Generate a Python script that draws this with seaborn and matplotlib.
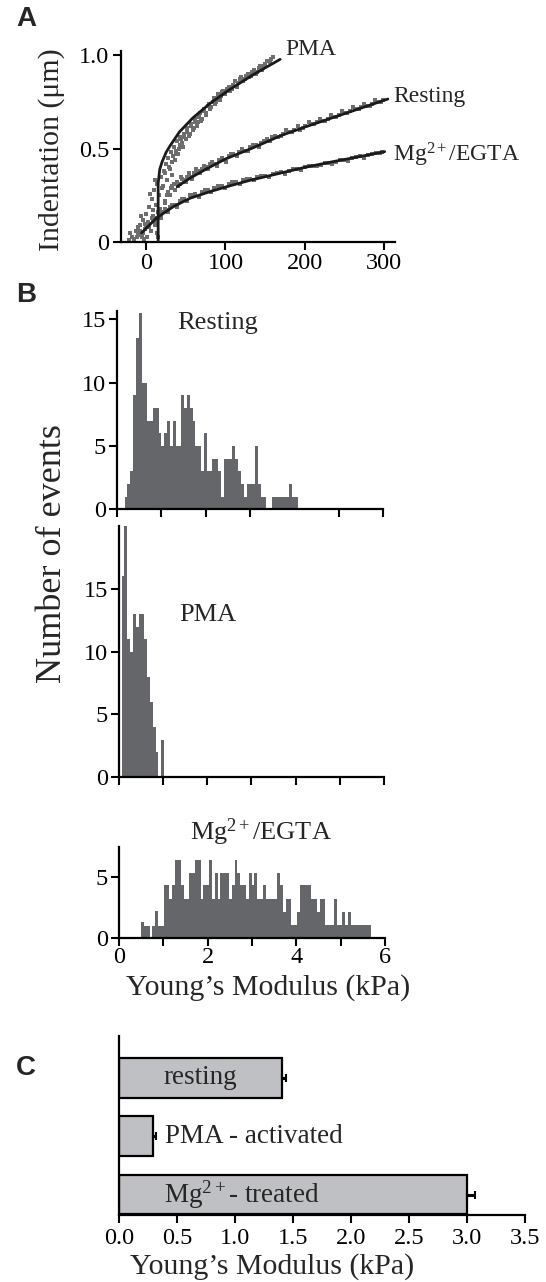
import numpy as np
import pandas as pd
import matplotlib
matplotlib.use("Agg")
import matplotlib.pyplot as plt
import seaborn as sns

# ---------------- data ----------------
# Panel A: indentation (um) vs force, raw points (two sweeps each) and fitted curves
pma_dot_x = [-22, -18, -15, -13, -10, -8, -6, -4, -2, 0, 1, 3, 4, 6, 7, 9, 10, 11, 12, 14,
             15, 16, 18, 19, 20, 22, 23, 25, 26, 28, 30, 31, 33, 35, 37, 39, 41, 43, 45, 47,
             50, 52, 55, 57, 60, 62, 65, 68, 70, 73, 76, 79, 82, 85, 88, 91, 94, 97, 100, 104,
             108, 112, 116, 120, 124, 128, 132, 136, 140, 144, 148, 152, 156, 160]
pma_dot_y = [0.01, 0.03, 0.02, 0.06, 0.04, 0.09, 0.03, 0.12, 0.07, 0.15, 0.03, 0.10, 0.19, 0.06, 0.23, 0.14, 0.28, 0.09, 0.20, 0.31,
             0.03, 0.25, 0.35, 0.13, 0.29, 0.38, 0.21, 0.42, 0.33, 0.45, 0.39, 0.48, 0.43, 0.51, 0.47, 0.54, 0.50, 0.56, 0.53, 0.58,
             0.55, 0.61, 0.58, 0.63, 0.61, 0.66, 0.64, 0.69, 0.66, 0.71, 0.69, 0.74, 0.72, 0.77, 0.75, 0.79, 0.78, 0.81, 0.80, 0.83,
             0.82, 0.86, 0.85, 0.88, 0.87, 0.90, 0.89, 0.92, 0.91, 0.94, 0.94, 0.97, 0.96, 0.99]
pma_dot2_x = [-20, -16, -11, -7, -3, 2, 5, 8, 11, 13, 17, 21, 24, 27, 29, 32, 34, 36, 38, 40,
              42, 44, 46, 48, 51, 54, 56, 59, 61, 64, 67, 69, 72, 75, 78, 81, 84, 87, 90, 93,
              96, 99, 102, 106, 110, 114, 118, 122, 126, 130, 134, 138, 142, 146, 150, 154, 158]
pma_dot2_y = [0.05, 0.01, 0.08, 0.14, 0.02, 0.11, 0.26, 0.17, 0.33, 0.05, 0.18, 0.30, 0.37, 0.27, 0.40, 0.36, 0.46, 0.44, 0.49, 0.47,
              0.52, 0.55, 0.51, 0.56, 0.59, 0.57, 0.62, 0.60, 0.64, 0.62, 0.67, 0.65, 0.70, 0.68, 0.73, 0.71, 0.75, 0.74, 0.77, 0.76,
              0.80, 0.79, 0.82, 0.81, 0.84, 0.83, 0.87, 0.86, 0.89, 0.88, 0.91, 0.90, 0.93, 0.92, 0.95, 0.97, 0.98]
rest_dot_x = [24, 27, 30, 33, 36, 39, 42, 45, 48, 52, 56, 60, 65, 70, 75, 80, 86, 92, 98, 104,
              110, 117, 124, 131, 138, 145, 152, 159, 166, 173, 180, 187, 194, 201, 208, 215, 222, 229, 236, 243,
              250, 257, 264, 271, 278, 285, 292, 299]
rest_dot_y = [0.22, 0.27, 0.25, 0.30, 0.28, 0.32, 0.31, 0.34, 0.33, 0.35, 0.35, 0.37, 0.38, 0.39, 0.40, 0.42, 0.42, 0.44, 0.44, 0.46,
              0.47, 0.48, 0.49, 0.51, 0.52, 0.53, 0.55, 0.56, 0.56, 0.58, 0.59, 0.60, 0.60, 0.62, 0.63, 0.64, 0.65, 0.66, 0.67, 0.68,
              0.69, 0.70, 0.71, 0.72, 0.73, 0.74, 0.75, 0.76]
rest_dot2_x = [26, 31, 35, 40, 44, 50, 54, 58, 63, 68, 73, 78, 83, 89, 95, 101, 107, 114, 121, 128,
               135, 142, 149, 156, 163, 170, 177, 184, 191, 198, 205, 212, 219, 226, 233, 240, 247, 254, 261, 268,
               275, 282, 289, 296]
rest_dot2_y = [0.25, 0.29, 0.31, 0.30, 0.35, 0.32, 0.37, 0.34, 0.39, 0.37, 0.41, 0.39, 0.43, 0.41, 0.45, 0.43, 0.47, 0.46, 0.50, 0.49,
               0.52, 0.51, 0.54, 0.54, 0.57, 0.57, 0.60, 0.59, 0.62, 0.61, 0.64, 0.63, 0.66, 0.65, 0.68, 0.67, 0.70, 0.69, 0.72, 0.71,
               0.74, 0.73, 0.76, 0.75]
mg_dot_x = [-12, -8, -4, 0, 4, 8, 12, 16, 20, 25, 30, 36, 42, 48, 55, 62, 70, 78, 86, 95,
            104, 113, 122, 131, 140, 150, 160, 170, 180, 190, 200, 210, 220, 230, 240, 250, 260, 270, 280, 290, 298]
mg_dot_y = [0.03, 0.06, 0.05, 0.09, 0.10, 0.12, 0.13, 0.15, 0.16, 0.17, 0.19, 0.20, 0.22, 0.23, 0.25, 0.26, 0.27, 0.28, 0.29, 0.30,
            0.31, 0.32, 0.33, 0.34, 0.35, 0.355, 0.365, 0.375, 0.38, 0.39, 0.40, 0.41, 0.415, 0.425, 0.43, 0.44, 0.45, 0.46, 0.465, 0.475, 0.48]
mg_dot2_x = [-10, -6, -1, 3, 7, 11, 15, 19, 23, 28, 33, 39, 45, 52, 59, 66, 74, 82, 90, 99,
             108, 118, 127, 136, 145, 155, 165, 175, 185, 195, 205, 215, 225, 235, 245, 255, 265, 275, 285, 295]
mg_dot2_y = [0.06, 0.04, 0.10, 0.08, 0.13, 0.11, 0.16, 0.14, 0.18, 0.16, 0.20, 0.19, 0.23, 0.22, 0.25, 0.24, 0.28, 0.27, 0.30, 0.29,
             0.32, 0.31, 0.34, 0.33, 0.355, 0.35, 0.37, 0.365, 0.39, 0.385, 0.41, 0.405, 0.425, 0.42, 0.44, 0.435, 0.455, 0.45, 0.47, 0.475]

pma_fit_x = [15, 15, 17, 20, 25, 30, 42, 59, 80, 105, 135, 169]
pma_fit_y = [0.0, 0.315, 0.39, 0.43, 0.48, 0.515, 0.59, 0.665, 0.74, 0.815, 0.895, 0.977]
rest_fit_x = [39, 55, 76, 100, 135, 170, 200, 235, 270, 305]
rest_fit_y = [0.297, 0.342, 0.392, 0.445, 0.505, 0.57, 0.615, 0.665, 0.715, 0.765]
mg_fit_x = [-6, 13, 34, 55, 80, 100, 130, 165, 200, 235, 270, 301]
mg_fit_y = [0.05, 0.13, 0.19, 0.235, 0.27, 0.295, 0.33, 0.365, 0.40, 0.43, 0.458, 0.484]

# Panel B: histograms of Young's modulus (kPa)
bin_width = 0.064
resting_start = 0.17
resting_counts = [1, 2, 3, 9, 13.5, 15.5, 10, 10, 7, 7,
                  8, 8, 6, 5, 6, 7, 5, 7, 5, 5,
                  9, 8, 9, 8, 7, 5, 5, 3, 6, 3,
                  3, 4, 4, 3, 1, 4, 4, 4, 5, 4,
                  3, 2, 1, 2, 2, 2, 5, 2, 1, 1,
                  0, 0, 1, 1, 1, 1, 1, 1, 2, 1,
                  1]
pma_start = 0.06
pma_counts = [16, 20, 11, 10, 13, 12, 13, 13, 11, 8, 6, 4, 2, 0, 3]
mg_start = 0.24
mg_counts = [0.1, 0.1, 0.1, 0.1, 1.3, 1, 1, 0.1, 1, 2.2,
             1, 1, 4.3, 4.3, 3.2, 4.3, 6.4, 6.4, 4.3, 3.2,
             3.2, 5.3, 5.3, 6.4, 6.4, 3.2, 4.3, 4.3, 6.4, 3.2,
             5.3, 3.2, 5.3, 5.3, 5.3, 3.2, 4.3, 6.4, 5.3, 4.3,
             4.3, 3.2, 5.3, 4.3, 5.3, 3.2, 3.2, 4.3, 3.2, 3.2,
             3.2, 3.2, 5.3, 4.3, 2.1, 3.2, 3.2, 1.1, 1.1, 2.1,
             4.3, 4.3, 4.3, 4.3, 3.2, 3.2, 2.1, 3.2, 3.2, 1.1,
             1.1, 1.1, 3.2, 1.1, 1.1, 2.1, 1.1, 2.1, 1.1, 1.1,
             1.1, 1.1, 1.1, 1.1, 1.1]

# Panel C: mean Young's modulus
conditions = ["resting", "PMA - activated", "Mg$^{\\mathrm{2+}}$- treated"]
mean_modulus = [1.40, 0.29, 3.00]
sem_modulus = [0.035, 0.025, 0.07]

# ---------------- style ----------------
sns.set_style("ticks")
plt.rcParams["font.family"] = ["Liberation Serif", "DejaVu Serif"]
plt.rcParams["mathtext.fontset"] = "custom"
plt.rcParams["mathtext.rm"] = "Liberation Serif"
plt.rcParams["mathtext.it"] = "Liberation Serif:italic"
plt.rcParams["axes.edgecolor"] = "black"
plt.rcParams["axes.linewidth"] = 1.6
plt.rcParams["xtick.color"] = "black"
plt.rcParams["ytick.color"] = "black"

TICK_FS = 17.5
LABEL_FS = 21.5
DOT_C = "#6d6d6d"
HIST_C = "#65666a"
BAR_C = "#bfc0c4"

W, H = 546, 1282
fig = plt.figure(figsize=(W / 100, H / 100), dpi=100)


def axes_px(left, top, right, bottom):
    return fig.add_axes([left / W, 1 - bottom / H, (right - left) / W, (bottom - top) / H])


def style_ax(ax, pad=2):
    sns.despine(ax=ax)
    ax.tick_params(direction="out", length=6, width=1.5, labelsize=TICK_FS, pad=pad)
    ax.set_xlabel("")
    ax.set_ylabel("")


# ---------------- panel A ----------------
axA = axes_px(120.7, 50.7, 395, 242.3)
for xs, ys in [(pma_dot_x, pma_dot_y), (pma_dot2_x, pma_dot2_y),
               (rest_dot_x, rest_dot_y), (rest_dot2_x, rest_dot2_y),
               (mg_dot_x, mg_dot_y), (mg_dot2_x, mg_dot2_y)]:
    sns.scatterplot(x=xs, y=ys, ax=axA, color=DOT_C, marker="s", s=10, linewidth=0, zorder=2)
for xs, ys in [(pma_fit_x, pma_fit_y), (rest_fit_x, rest_fit_y), (mg_fit_x, mg_fit_y)]:
    sns.lineplot(x=xs, y=ys, ax=axA, color="#1a1a1a", linewidth=2.0, sort=False, estimator=None, zorder=3)
axA.set_xlim(-32.3, 314)
axA.set_ylim(0, 1.023)
axA.set_xticks([0, 100, 200, 300])
axA.set_yticks([0, 0.5, 1.0])
axA.set_yticklabels(["0", "0.5", "1.0"])
style_ax(axA)
axA.text(176, 1.027, "PMA", fontsize=17, ha="left", va="center", clip_on=False)
axA.text(312, 0.777, "Resting", fontsize=17, ha="left", va="center", clip_on=False)
axA.text(311, 0.466, "Mg$^{\\mathrm{2+}}$/EGTA", fontsize=17, ha="left", va="center", clip_on=False)
fig.text(52 / W, 1 - 150 / H, "Indentation (\u03bcm)", rotation=90, ha="center", va="center", fontsize=LABEL_FS)

# ---------------- panel B ----------------
def hist_panel(ax, start, counts, ymax, yticks, xticks):
    n = len(counts)
    edges = [float(start + bin_width * k) for k in range(n + 1)]
    centers = [(edges[k] + edges[k + 1]) / 2 for k in range(n)]
    df = pd.DataFrame({"modulus": centers, "events": [float(c) for c in counts]})
    sns.histplot(data=df, x="modulus", weights="events", bins=edges, ax=ax, color=HIST_C,
                 alpha=1, linewidth=0, element="bars", fill=True)
    ax.set_xlim(0, 6)
    ax.set_ylim(0, ymax)
    ax.set_yticks(yticks)
    ax.set_xticks(xticks)
    style_ax(ax)


axR = axes_px(117, 310.7, 383, 509.3)
hist_panel(axR, resting_start, resting_counts, 15.68, [0, 5, 10, 15], [0, 1, 2, 3, 5, 6])
axR.set_xticklabels([])
axR.text(1.35, 14.7, "Resting", fontsize=19, ha="left", va="center")

axP = axes_px(119, 526, 384, 777.3)
hist_panel(axP, pma_start, pma_counts, 20.0, [0, 5, 10, 15], [0, 1, 2, 3, 4, 5, 6])
axP.set_xticklabels([])
axP.text(1.36, 12.9, "PMA", fontsize=19, ha="left", va="center")

axM = axes_px(119, 847.3, 385, 938.3)
hist_panel(axM, mg_start, mg_counts, 7.4, [0, 5], [0, 1, 2, 3, 4, 5, 6])
axM.set_xticklabels(["0", "", "2", "", "4", "", "6"])
axM.tick_params(axis="x", pad=0)
axM.text(3.2, 8.6, "Mg$^{\\mathrm{2+}}$/EGTA", fontsize=19, ha="center", va="center", clip_on=False)

fig.text(53 / W, 1 - 554 / H, "Number of events", rotation=90, ha="center", va="center", fontsize=26)
fig.text(268 / W, 1 - 995 / H, "Young\u2019s Modulus (kPa)", ha="center", va="baseline", fontsize=LABEL_FS)

# ---------------- panel C ----------------
axC = axes_px(119.3, 1036, 525, 1215)
dfC = pd.DataFrame({"condition": conditions, "modulus": mean_modulus})
sns.barplot(data=dfC, x="modulus", y="condition", orient="h", color=BAR_C, saturation=1,
            edgecolor="black", linewidth=1.6, width=0.68, errorbar=None, ax=axC)
axC.errorbar(mean_modulus, np.arange(len(conditions)),
             xerr=[np.zeros(len(conditions)), sem_modulus], fmt="none",
             ecolor="black", elinewidth=2.2, capsize=3, capthick=1.5, zorder=4)
axC.set_xlim(0, 3.5)
axC.set_ylim(2.35, -0.717)
axC.set_xticks([0, 0.5, 1.0, 1.5, 2.0, 2.5, 3.0, 3.5])
axC.set_xticklabels(["0.0", "0.5", "1.0", "1.5", "2.0", "2.5", "3.0", "3.5"])
axC.set_yticks([])
style_ax(axC, pad=3)
text_x = [0.38, 0.39, 0.386]
for i, lab in enumerate(conditions):
    axC.text(text_x[i], i, lab, fontsize=19.5, ha="left", va="center")
fig.text(272 / W, 1 - 1274 / H, "Young\u2019s Modulus (kPa)", ha="center", va="baseline", fontsize=LABEL_FS)

# ---------------- panel letters ----------------
for lab, yc in [("A", 19), ("B", 295), ("C", 1068)]:
    fig.text(16 / W, 1 - yc / H, lab, fontsize=20, fontweight="bold", ha="left", va="center",
             family=["Liberation Sans", "DejaVu Sans"])

fig.savefig("out.png", dpi=100)
